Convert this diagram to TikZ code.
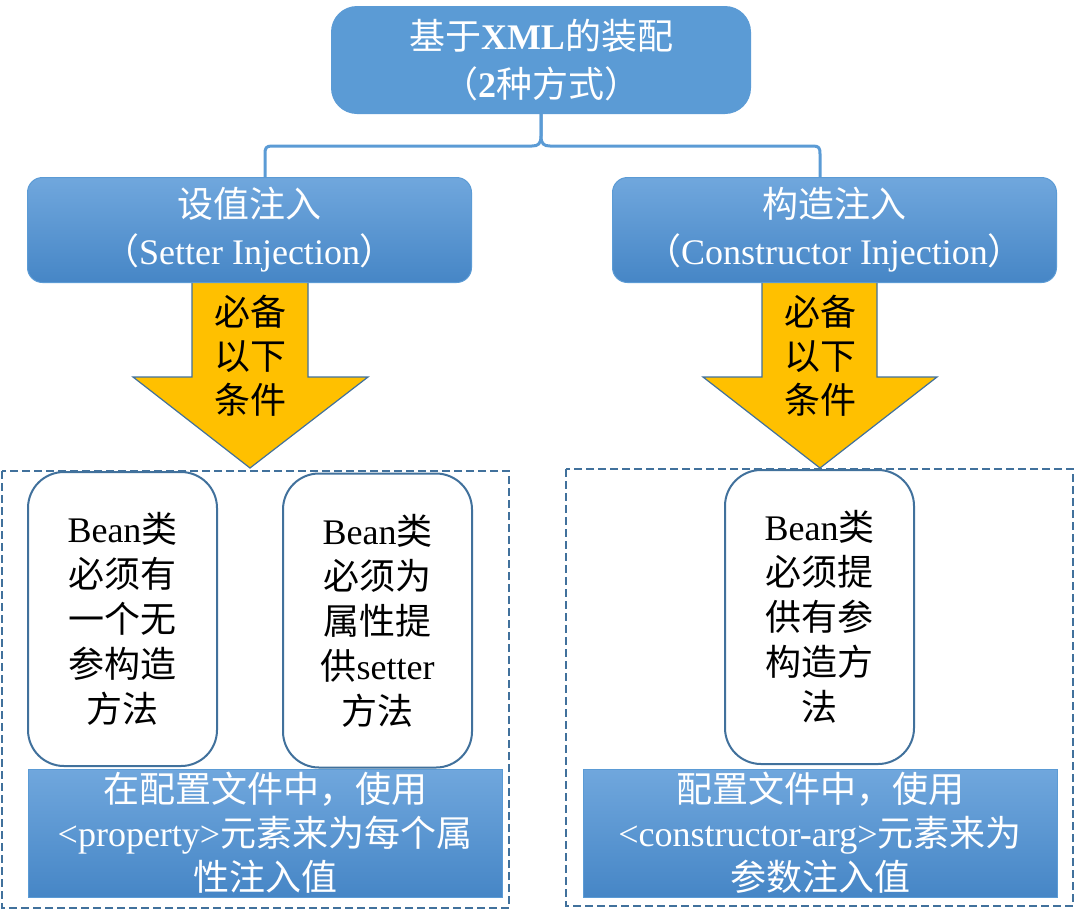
\documentclass[tikz,border=0pt]{standalone}
\usepackage{fontspec}
\setmainfont{Liberation Serif}
\newfontfamily\cjk{Noto Sans CJK SC}
\newcommand\zh[1]{{\cjk\mdseries #1}}
\definecolor{mblue}{HTML}{5B9BD5}
\definecolor{dblue}{HTML}{41719C}
\definecolor{gtop}{HTML}{70A7DD}
\definecolor{gbot}{HTML}{4686C6}
\definecolor{ygold}{HTML}{FFC000}
\tikzset{
  txt/.style={font=\fontsize{36}{45}\selectfont, align=center, inner sep=0pt},
  topbox/.style={txt, fill=mblue, text=white, rounded corners=26pt, minimum width=420pt, minimum height=108pt},
  childbox/.style={txt, draw=mblue, line width=1pt, top color=gtop, bottom color=gbot, text=white, rounded corners=15pt, minimum width=444pt, minimum height=105pt},
  whitebox/.style={txt, draw=dblue, line width=2pt, fill=white, rounded corners=36pt, minimum width=189pt, minimum height=294pt},
  barbox/.style={txt, draw=mblue, line width=1pt, top color=gtop, bottom color=gbot, text=white, minimum width=474pt, minimum height=128pt},
  yarrow/.style={fill=ygold, draw=dblue, line width=1.2pt},
  conn/.style={draw=mblue, line width=3pt},
  frame/.style={draw=dblue, line width=2pt, dash pattern=on 8pt off 4pt},
}
\begin{document}
\begin{tikzpicture}[x=1pt,y=-1pt]
\useasboundingbox (0,0) rectangle (1075,921);

% yellow arrows (drawn first, boxes cover their tops)
\draw[yarrow] (192,280) -- (192,377) -- (133,377) -- (250,468) -- (368,377) -- (308,377) -- (308,280);
\draw[yarrow] (762,280) -- (762,377) -- (703,377) -- (820,468) -- (937,377) -- (877,377) -- (877,280);
\node[txt, text=black, font=\fontsize{36}{44}\selectfont] (condL) at (250,356) {\zh{必备}\\\zh{以下}\\\zh{条件}};
\node[txt, text=black, font=\fontsize{36}{44}\selectfont] (condR) at (820,356) {\zh{必备}\\\zh{以下}\\\zh{条件}};

% dashed frames
\draw[frame] (2,471) rectangle (509,908);
\draw[frame] (566,469) rectangle (1073,906);

% top box
\node[topbox] (top) at (541,60) {\zh{基于}\textbf{XML}\zh{的装配}\\[3pt]\zh{（}\textbf{2}\zh{种方式）}};

% child boxes
\node[childbox] (set) at (249.5,230) {\zh{设值注入}\\[2pt]\zh{（}Setter Injection\zh{）}};
\node[childbox] (cons) at (834.5,230) {\zh{构造注入}\\[2pt]\zh{（}Constructor Injection\zh{）}};

% bracket connector
\coordinate (xL) at (265,0);
\coordinate (xR) at (820,0);
\draw[conn] (xL |- set.north) -- (265,154) .. controls (265,148) and (266,146) .. (272,146)
  -- (532,146) .. controls (538,146) and (541,144) .. (541,136) -- (top.south);
\draw[conn] (xR |- cons.north) -- (820,154) .. controls (820,148) and (819,146) .. (813,146)
  -- (550,146) .. controls (544,146) and (541,144) .. (541,136) -- (top.south);

% white condition boxes
\node[whitebox] (c1) at (122.5,619) {Bean\zh{类}\\\zh{必须有}\\\zh{一个无}\\\zh{参构造}\\\zh{方法}};
\node[whitebox] (c2) at (377.5,620.5) {Bean\zh{类}\\\zh{必须为}\\\zh{属性提}\\\zh{供}setter\\\zh{方法}};
\node[whitebox] (c3) at (819.5,617) {Bean\zh{类}\\\zh{必须提}\\\zh{供有参}\\\zh{构造方}\\\zh{法}};

% bottom bars
\node[barbox, font=\fontsize{36}{44}\selectfont] (barL) at (265,833) {\zh{在配置文件中，使用}\\<property>\zh{元素来为每个属}\\\zh{性注入值}};
\node[barbox, font=\fontsize{36}{44}\selectfont] (barR) at (820,833) {\zh{配置文件中，使用}\\<constructor-arg>\zh{元素来为}\\\zh{参数注入值}};
\end{tikzpicture}
\end{document}
